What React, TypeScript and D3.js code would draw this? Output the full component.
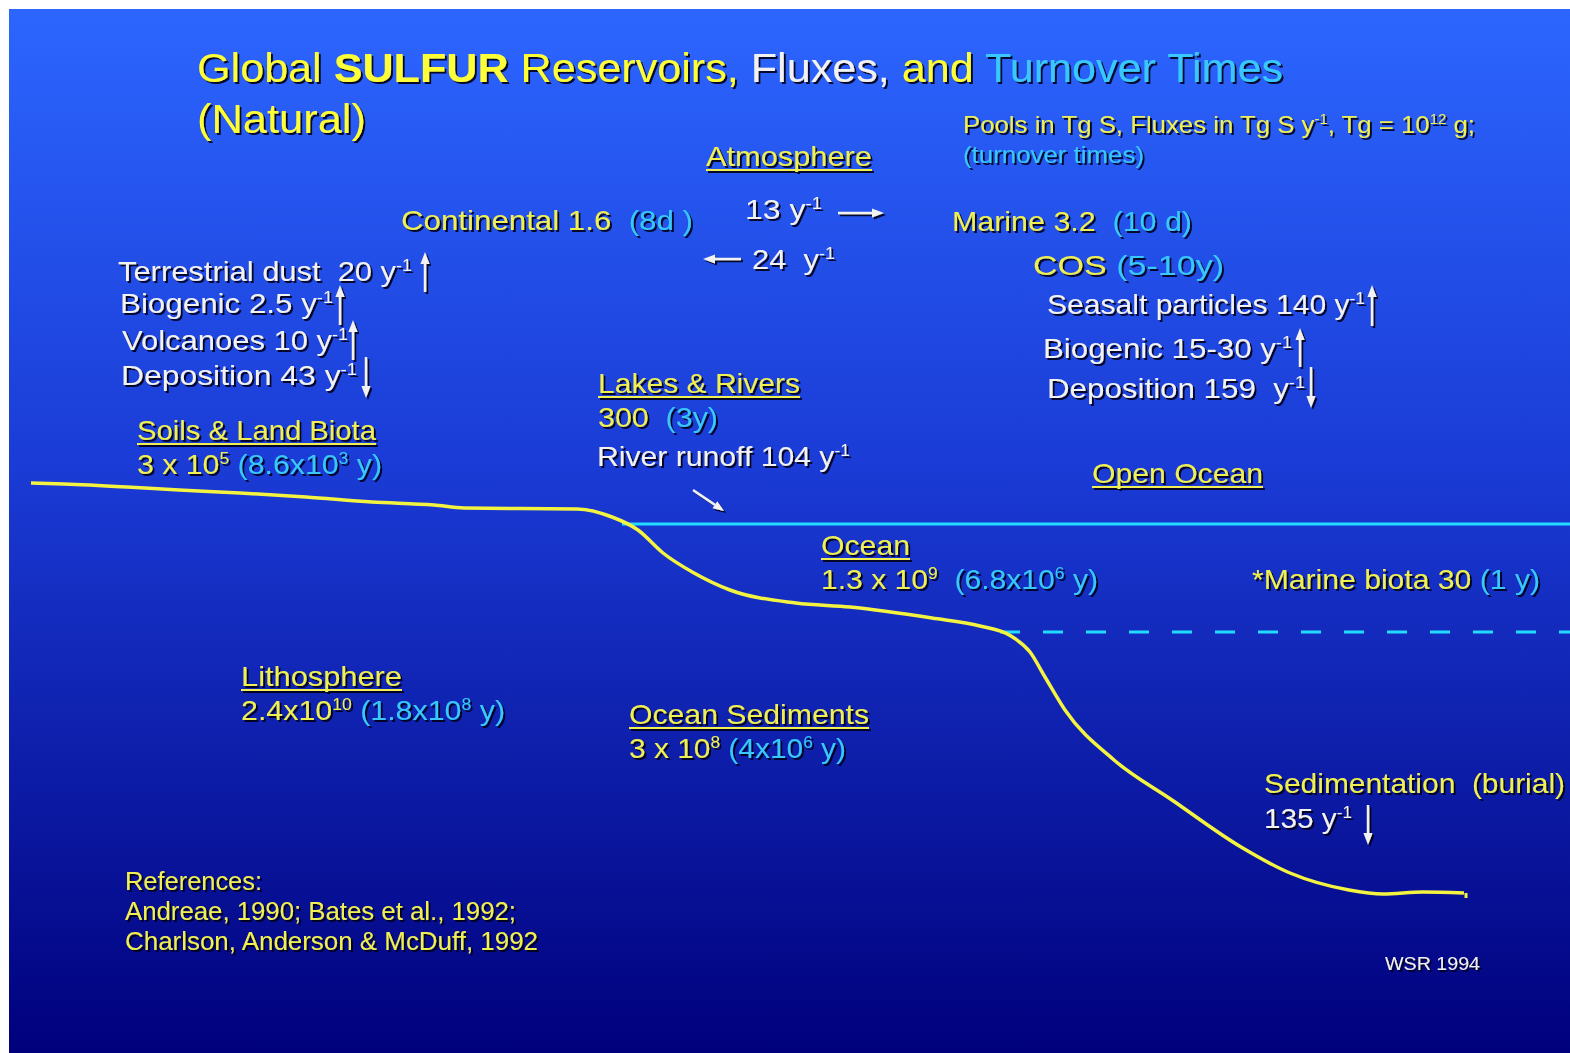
import React from 'react';
import * as d3 from 'd3';

const W = 1570;
const H = 1053;

const YELLOW = '#f0f052';
const TITLE_YELLOW = '#ffff38';
const WHITE = '#f2f2f2';
const CYAN = '#38c8ff';
const FONT = "'Liberation Sans Narrow', 'Liberation Sans', Arial, sans-serif";

// reservoirs: pools in Tg S and turnover times ("^" marks a superscript)
const reservoirNames = ['Atmosphere', 'Soils & Land Biota', 'Lakes & Rivers', 'Open Ocean', 'Ocean', 'Lithosphere', 'Ocean Sediments'];
const reservoirPools = ['', '3 x 10^5', '300', '', '1.3 x 10^9', '2.4x10^10', '3 x 10^8'];
const reservoirTurnover = ['', '(8.6x10^3 y)', '(3y)', '', '(6.8x10^6 y)', '(1.8x10^8 y)', '(4x10^6 y)'];

// sub-pools
const subPoolNames = ['Continental', 'Marine', 'COS', '*Marine biota'];
const subPoolValues = ['1.6', '3.2', '', '30'];
const subPoolTurnover = ['(8d )', '(10 d)', '(5-10y)', '(1 y)'];

// fluxes in Tg S y-1
const fluxNames = ['Terrestrial dust', 'Biogenic', 'Volcanoes', 'Deposition', 'Seasalt particles', 'Biogenic', 'Deposition', 'River runoff', '', '', ''];
const fluxValues = ['20', '2.5', '10', '43', '140', '15-30', '159', '104', '13', '24', '135'];
const fluxDirections = ['up', 'up', 'up', 'down', 'up', 'up', 'down', 'diag', 'right', 'left', 'down'];

const references = ['References:', 'Andreae, 1990; Bates et al., 1992;', 'Charlson, Anderson & McDuff, 1992'];

// land surface / sea floor profile: distance along section vs depth below land surface
const profileDistance = [0, 33, 96, 148, 209, 275, 341, 403, 433, 546, 581, 607, 632, 663, 699, 765, 819, 901, 949, 980, 999, 1014, 1034, 1083, 1141, 1210, 1259, 1318, 1352, 1392, 1433];
const profileDepth = [0, 1, 4, 7, 10, 14, 19, 22, 25, 26, 34, 47, 70, 90, 107, 120, 124, 135, 143, 153, 169, 194, 227, 277, 317, 364, 390, 407, 411, 409, 410];
const seaLevelDepth = 41;
const seaLevelStart = 591;
const mixedLayerDepth = 149;
const mixedLayerStart = 969;

const x = d3.scaleLinear().domain([0, 1433]).range([31, 1464]);
const y = d3.scaleLinear().domain([0, 410]).range([483, 893]);

type Seg = { t: string; c?: string; sup?: boolean; b?: boolean };

const parse = (s: string, c: string): Seg[] =>
  s.split(/\^([0-9-]+)/).map((t, i) => ({ t, c, sup: i % 2 === 1 })).filter(d => d.t !== '');

const sp = (t: string): Seg => ({ t });

interface LabelProps {
  x: number;
  y: number;
  w: number;
  size?: number;
  segs: Seg[];
  ul?: boolean;
  fill?: string;
}

const Label: React.FC<LabelProps> = ({ x, y, w, size = 28, segs, ul = false, fill = WHITE }) => {
  let shift = 0;
  return (
    <g filter="url(#shadow)">
      <text
        x={x}
        y={y}
        fontSize={size}
        fontFamily={FONT}
        fill={fill}
        textLength={w}
        lengthAdjust="spacingAndGlyphs"
        style={{ whiteSpace: 'pre' }}
      >
        {segs.map((s, i) => {
          const target = s.sup ? -size * 0.36 : 0;
          const dy = target - shift;
          shift = target;
          return (
            <tspan
              key={i}
              dy={dy !== 0 ? dy : undefined}
              fill={s.c}
              fontSize={s.sup ? size * 0.58 : undefined}
              fontWeight={s.b ? 'bold' : undefined}
            >
              {s.t}
            </tspan>
          );
        })}
      </text>
      {ul && <line x1={x} x2={x + w} y1={y + 4} y2={y + 4} stroke={YELLOW} strokeWidth={2} />}
    </g>
  );
};

const Arrow: React.FC<{ x1: number; y1: number; x2: number; y2: number; head?: number }> = ({ x1, y1, x2, y2, head = 12 }) => {
  const a = Math.atan2(y2 - y1, x2 - x1);
  const hw = head * 0.38;
  const bx = x2 - head * Math.cos(a);
  const by = y2 - head * Math.sin(a);
  const pts = [
    [x2, y2],
    [bx + hw * Math.sin(a), by - hw * Math.cos(a)],
    [bx - hw * Math.sin(a), by + hw * Math.cos(a)],
  ];
  return (
    <g filter="url(#shadow)">
      <line x1={x1} y1={y1} x2={bx} y2={by} stroke={WHITE} strokeWidth={2.5} />
      <polygon points={pts.map(p => p.join(',')).join(' ')} fill={WHITE} />
    </g>
  );
};

// vertical flux arrow layout: [x, top, bottom]
const fluxArrowLayout: Record<number, [number, number, number]> = {
  0: [425, 252, 292],
  1: [340, 285, 325],
  2: [353, 320, 360],
  3: [366, 357, 398],
  4: [1372, 285, 326],
  5: [1300, 328, 367],
  6: [1311, 367, 408],
  10: [1368, 805, 845],
};

const fluxText = (i: number, gap = ' ') => parse(`${fluxNames[i]}${fluxNames[i] ? gap : ''}${fluxValues[i]} y^-1`, WHITE);

const App: React.FC = () => {
  const line = d3
    .line<number>()
    .x((_, i) => x(profileDistance[i]))
    .y(d => y(d))
    .curve(d3.curveMonotoneX);

  const pool = (i: number, gap = ' ') => [
    ...parse(reservoirPools[i], YELLOW),
    sp(gap),
    ...parse(reservoirTurnover[i], CYAN),
  ];

  const sub = (i: number, gap = '  ') => [
    { t: `${subPoolNames[i]}${subPoolValues[i] ? ' ' + subPoolValues[i] : ''}`, c: YELLOW },
    sp(subPoolValues[i] ? gap : ' '),
    { t: subPoolTurnover[i], c: CYAN },
  ];

  return (
    <div style={{ position: 'absolute', left: 0, top: 0 }}>
      <svg width={W} height={H} style={{ display: 'block' }}>
        <defs>
          <linearGradient id="bg" x1="0" y1="0" x2="0" y2="1">
            <stop offset="0" stopColor="#2c66ff" />
            <stop offset="0.45" stopColor="#1a3ad4" />
            <stop offset="1" stopColor="#00007c" />
          </linearGradient>
          <filter id="shadow" x="-10%" y="-30%" width="120%" height="160%">
            <feDropShadow dx="2" dy="2" stdDeviation="0.7" floodColor="#000018" floodOpacity="0.9" />
          </filter>
        </defs>
        <rect x={0} y={0} width={W} height={H} fill="#ffffff" />
        <rect x={9} y={9} width={W - 9} height={H - 9} fill="url(#bg)" />

        {/* title */}
        <Label
          x={197}
          y={82}
          w={1086}
          size={41}
          segs={[
            { t: 'Global ', c: TITLE_YELLOW },
            { t: 'SULFUR', c: TITLE_YELLOW, b: true },
            { t: ' Reservoirs, ', c: TITLE_YELLOW },
            { t: 'Fluxes, ', c: WHITE },
            { t: 'and ', c: TITLE_YELLOW },
            { t: 'Turnover Times', c: CYAN },
          ]}
        />
        <Label x={197} y={133} w={169} size={41} segs={[{ t: '(Natural)', c: TITLE_YELLOW }]} />
        <Label x={963} y={133} w={512} size={24} segs={parse('Pools in Tg S, Fluxes in Tg S y^-1, Tg = 10^12 g;', YELLOW)} />
        <Label x={963} y={163} w={181} size={24} segs={[{ t: '(turnover times)', c: CYAN }]} />

        {/* atmosphere */}
        <Label x={706} y={166} w={166} segs={[{ t: reservoirNames[0], c: YELLOW }]} ul />
        <Label x={401} y={230} w={292} segs={sub(0)} />
        <Label x={952} y={231} w={240} segs={sub(1)} />
        <Label x={1033} y={275} w={191} segs={sub(2)} />
        <Label x={745} y={219} w={77} segs={fluxText(8)} />
        <Arrow x1={838} y1={213} x2={884} y2={213} />
        <Label x={752} y={269} w={83} segs={parse(`${fluxValues[9]}  y^-1`, WHITE)} />
        <Arrow x1={741} y1={259} x2={703} y2={259} />

        {/* land fluxes */}
        <Label x={118} y={281} w={294} segs={fluxText(0, '  ')} />
        <Label x={120} y={313} w={213} segs={fluxText(1)} />
        <Label x={122} y={350} w={226} segs={fluxText(2)} />
        <Label x={121} y={385} w={236} segs={fluxText(3)} />

        {/* ocean fluxes */}
        <Label x={1047} y={314} w={318} segs={fluxText(4)} />
        <Label x={1043} y={358} w={249} segs={fluxText(5)} />
        <Label x={1047} y={398} w={258} segs={parse(`${fluxNames[6]} ${fluxValues[6]}  y^-1`, WHITE)} />

        {Object.entries(fluxArrowLayout).map(([k, [ax, top, bottom]]) =>
          fluxDirections[+k] === 'up' ? (
            <Arrow key={k} x1={ax} y1={bottom} x2={ax} y2={top} />
          ) : (
            <Arrow key={k} x1={ax} y1={top} x2={ax} y2={bottom} />
          )
        )}

        {/* land reservoirs */}
        <Label x={137} y={440} w={239} segs={[{ t: reservoirNames[1], c: YELLOW }]} ul />
        <Label x={137} y={474} w={245} segs={pool(1)} />
        <Label x={598} y={393} w={202} segs={[{ t: reservoirNames[2], c: YELLOW }]} ul />
        <Label x={598} y={427} w={120} segs={pool(2, '  ')} />
        <Label x={597} y={466} w={253} segs={fluxText(7)} />
        <Arrow x1={693} y1={490} x2={724} y2={511} head={11} />

        {/* ocean */}
        <Label x={1092} y={483} w={171} segs={[{ t: reservoirNames[3], c: YELLOW }]} ul />
        <Label x={821} y={555} w={89} segs={[{ t: reservoirNames[4], c: YELLOW }]} ul />
        <Label x={821} y={589} w={277} segs={pool(4, '  ')} />
        <Label x={1252} y={589} w={288} segs={sub(3, ' ')} />

        {/* surface / profile lines */}
        <line
          x1={x(seaLevelStart)}
          x2={W}
          y1={y(seaLevelDepth)}
          y2={y(seaLevelDepth)}
          stroke="#22dcff"
          strokeWidth={3}
        />
        <line
          x1={x(mixedLayerStart)}
          x2={W}
          y1={y(mixedLayerDepth)}
          y2={y(mixedLayerDepth)}
          stroke="#22dcff"
          strokeWidth={3}
          strokeDasharray="20 23"
        />
        <path d={line(profileDepth) || ''} fill="none" stroke="#f4f440" strokeWidth={3.5} strokeLinejoin="round" />
        <line
          x1={x(1435)}
          x2={x(1435)}
          y1={y(profileDepth[profileDepth.length - 1])}
          y2={y(profileDepth[profileDepth.length - 1]) + 5}
          stroke="#f4f440"
          strokeWidth={3}
        />

        {/* solid earth */}
        <Label x={241} y={686} w={161} segs={[{ t: reservoirNames[5], c: YELLOW }]} ul />
        <Label x={241} y={720} w={264} segs={pool(5)} />
        <Label x={629} y={724} w={240} segs={[{ t: reservoirNames[6], c: YELLOW }]} ul />
        <Label x={629} y={758} w={217} segs={pool(6)} />

        <Label x={1264} y={793} w={301} segs={[{ t: 'Sedimentation  (burial)', c: YELLOW }]} />
        <Label x={1264} y={828} w={88} segs={fluxText(10)} />

        {references.map((r, i) => (
          <Label key={i} x={125} y={890 + i * 30} w={[137, 391, 413][i]} size={25} segs={[{ t: r, c: YELLOW }]} />
        ))}
        <Label x={1385} y={970} w={95} size={19} segs={[{ t: 'WSR 1994', c: WHITE }]} />
      </svg>
    </div>
  );
};

export default App;
